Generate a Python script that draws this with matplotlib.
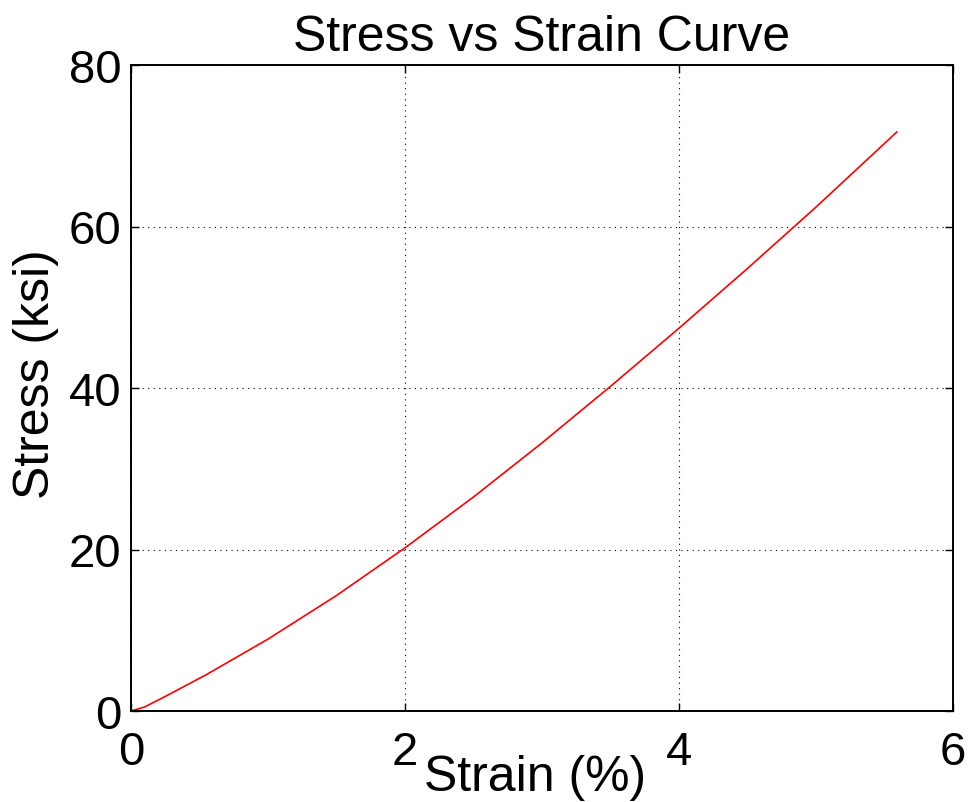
import matplotlib
matplotlib.use('Agg')
import matplotlib.pyplot as plt

plt.rcParams['font.family'] = ['Liberation Sans', 'DejaVu Sans']

# Tensile test readings
strain = [0, 0.1, 0.25, 0.55, 1.0, 1.5, 2.0, 2.5, 3.0, 3.5, 4.0, 4.5, 5.0, 5.59]
stress = [0, 0.5, 1.8, 4.5, 8.9, 14.3, 20.2, 26.5, 33.2, 40.2, 47.4, 54.8, 62.4, 71.7]

xticks = [0, 2, 4, 6]
yticks = [0, 20, 40, 60, 80]

fig = plt.figure(figsize=(9.68, 8.03), dpi=100)
ax = fig.add_axes([131 / 968, 1 - 712 / 803, 822 / 968, 646 / 803])

ax.plot(strain, stress, color='red', linewidth=1.2)

ax.set_xlim(0, 6)
ax.set_ylim(0, 80)
ax.set_xticks(xticks)
ax.set_yticks(yticks)
ax.grid(True, color='black', linestyle=(0, (1, 4)), linewidth=0.8)

for s in ax.spines.values():
    s.set_linewidth(1.4)
ax.tick_params(direction='in', length=6, width=1, top=True, right=True,
               labelsize=34)
ax.tick_params(axis='x', pad=14)
ax.tick_params(axis='y', pad=7)

ax.set_title('Stress vs Strain Curve', fontsize=36, pad=11)
ax.set_xlabel('Strain (%)', fontsize=36)
ax.set_ylabel('Stress (ksi)', fontsize=36)
ax.xaxis.set_label_coords(0.4915, -0.066)
ax.yaxis.set_label_coords(-0.087, 0.523)

fig.savefig('out.png', dpi=100)
